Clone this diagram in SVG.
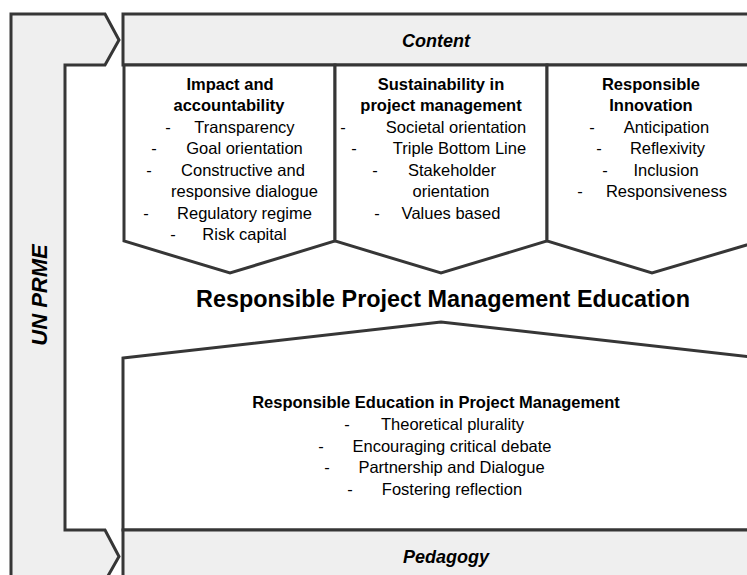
<svg xmlns="http://www.w3.org/2000/svg" width="747" height="575" viewBox="0 0 747 575">
<style>
  .frame { fill: #efefef; stroke: #363636; stroke-width: 3; stroke-linejoin: miter; }
  .box { fill: #ffffff; stroke: #363636; stroke-width: 3; stroke-linejoin: miter; }
  text { font-family: "Liberation Sans", Arial, sans-serif; fill: #000; }
  .t { font-size: 16.5px; text-anchor: middle; }
  .h { font-size: 16.5px; font-weight: bold; text-anchor: middle; }
  .d { font-size: 16.5px; text-anchor: middle; }
  .lbl { font-size: 18px; font-weight: bold; font-style: italic; text-anchor: middle; }
  .title { font-size: 23.4px; font-weight: bold; text-anchor: middle; }
</style>

<g id="un-prme">
  <path class="frame" d="M11,590 L11,14 L105,14 L119,40 L105,65 L65,65 L65,530 L105,530 L119,556.5 L104,583 L104,590 Z"/>
  <text class="lbl" style="font-size:22px" transform="translate(47,295) rotate(-90)">UN PRME</text>
</g>

<g id="content">
  <rect class="frame" x="123" y="14" width="640" height="51"/>
  <text class="lbl" x="436" y="47">Content</text>
</g>

<g id="impact-accountability">
  <path class="box" d="M124,65 L335,65 L335,241 L230,273 L124,241 Z"/>
  <text class="h" x="230" y="89.5">Impact and</text>
  <text class="h" x="229" y="111">accountability</text>
  <text class="d" x="168" y="132.5">-</text><text class="t" x="244.5" y="132.5">Transparency</text>
  <text class="d" x="154" y="154">-</text><text class="t" x="244.5" y="154">Goal orientation</text>
  <text class="d" x="149" y="175.5">-</text><text class="t" x="243" y="175.5">Constructive and</text>
  <text class="t" x="244.5" y="197">responsive dialogue</text>
  <text class="d" x="146" y="218.5">-</text><text class="t" x="244.5" y="218.5">Regulatory regime</text>
  <text class="d" x="173" y="240">-</text><text class="t" x="244.5" y="240">Risk capital</text>
</g>

<g id="sustainability">
  <path class="box" d="M335,65 L547,65 L547,241 L441,273 L335,241 Z"/>
  <text class="h" x="441" y="89.5">Sustainability in</text>
  <text class="h" x="441" y="111">project management</text>
  <text class="d" x="343" y="132.5">-</text><text class="t" x="456" y="132.5">Societal orientation</text>
  <text class="d" x="354" y="154">-</text><text class="t" x="459.5" y="154">Triple Bottom Line</text>
  <text class="d" x="375" y="175.5">-</text><text class="t" x="452" y="175.5">Stakeholder</text>
  <text class="t" x="451" y="197">orientation</text>
  <text class="d" x="377" y="218.5">-</text><text class="t" x="451" y="218.5">Values based</text>
</g>

<g id="responsible-innovation">
  <path class="box" d="M547,65 L760,65 L760,241 L652,273 L547,241 Z"/>
  <text class="h" x="651" y="89.5">Responsible</text>
  <text class="h" x="651" y="111">Innovation</text>
  <text class="d" x="592" y="132.5">-</text><text class="t" x="666.5" y="132.5">Anticipation</text>
  <text class="d" x="599" y="154">-</text><text class="t" x="667.5" y="154">Reflexivity</text>
  <text class="d" x="605" y="175.5">-</text><text class="t" x="666" y="175.5">Inclusion</text>
  <text class="d" x="580" y="197">-</text><text class="t" x="666.5" y="197">Responsiveness</text>
</g>

<g id="rpme-title">
  <text class="title" x="443" y="307">Responsible Project Management Education</text>
</g>

<g id="responsible-education">
  <path class="box" d="M123,358 L441,322 L760,358 L760,530 L123,530 Z"/>
  <text class="h" x="436" y="408">Responsible Education in Project Management</text>
  <text class="d" x="347" y="430">-</text><text class="t" x="452.5" y="430">Theoretical plurality</text>
  <text class="d" x="321" y="451.5">-</text><text class="t" x="452" y="451.5">Encouraging critical debate</text>
  <text class="d" x="327" y="473">-</text><text class="t" x="451.5" y="473">Partnership and Dialogue</text>
  <text class="d" x="350" y="494.5">-</text><text class="t" x="452" y="494.5">Fostering reflection</text>
</g>

<g id="pedagogy">
  <rect class="frame" x="123" y="530" width="640" height="60"/>
  <text class="lbl" x="446" y="563">Pedagogy</text>
</g>

<g id="connectors"></g>
</svg>
